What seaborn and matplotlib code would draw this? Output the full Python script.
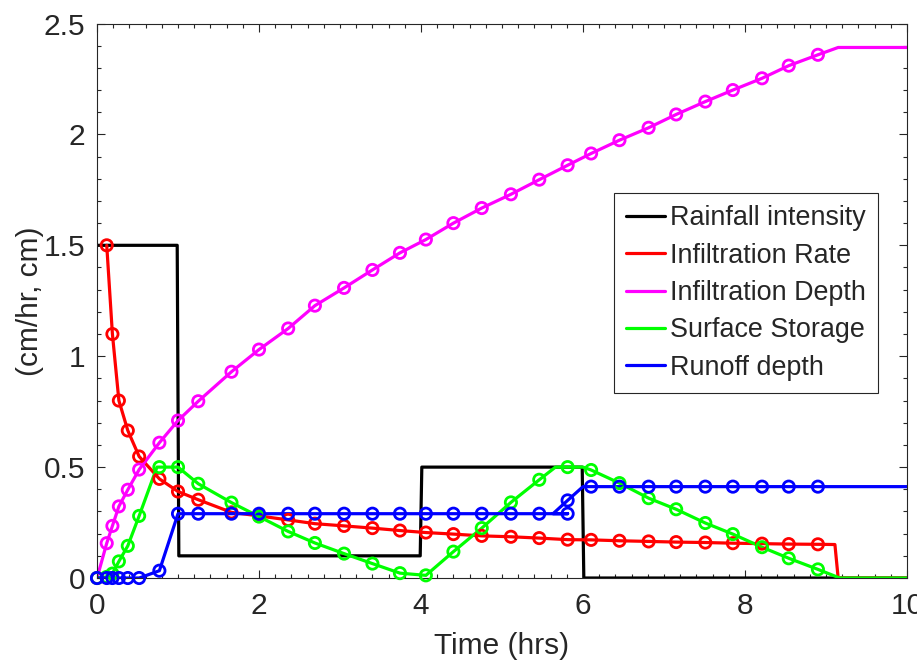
import matplotlib

matplotlib.use("Agg")
import matplotlib.pyplot as plt
import pandas as pd
import seaborn as sns
from matplotlib.ticker import FormatStrFormatter, MultipleLocator

# solver output times where the markers sit (hrs)
t_marks = [0, 0.12, 0.19, 0.27, 0.38, 0.52, 0.77, 1.0, 1.25, 1.66, 2.0, 2.36, 2.69,
           3.05, 3.40, 3.74, 4.06, 4.40, 4.75, 5.11, 5.46, 5.81, 6.10, 6.45, 6.81,
           7.15, 7.51, 7.85, 8.21, 8.54, 8.90]

# rainfall intensity (cm/hr), step hyetograph
rain_t = [0, 0.99, 1.01, 3.99, 4.01, 5.99, 6.01, 10]
rain_v = [1.5, 1.5, 0.1, 0.1, 0.5, 0.5, 0.0, 0.0]

# infiltration rate (cm/hr), starts at the 2nd output time
inf_rate_t = t_marks[1:] + [9.11, 9.15, 10]
inf_rate_v = [1.5, 1.1, 0.80, 0.665, 0.548, 0.447, 0.39, 0.353, 0.296, 0.28, 0.262,
              0.245, 0.235, 0.225, 0.214, 0.205, 0.198, 0.19, 0.186, 0.18, 0.173,
              0.172, 0.168, 0.165, 0.162, 0.16, 0.157, 0.155, 0.153, 0.152,
              0.151, 0.0, 0.0]

# cumulative infiltration depth (cm)
inf_depth_t = t_marks + [9.15, 10]
inf_depth_v = [0, 0.157, 0.235, 0.323, 0.398, 0.489, 0.61, 0.71, 0.797, 0.93, 1.03,
               1.125, 1.228, 1.308, 1.389, 1.466, 1.526, 1.600, 1.668, 1.730, 1.796,
               1.861, 1.914, 1.974, 2.03, 2.09, 2.148, 2.2, 2.253, 2.31, 2.359,
               2.392, 2.392]

# surface storage (cm)
storage_t = [0, 0.12, 0.19, 0.27, 0.38, 0.52, 0.74, 0.77, 1.0, 1.25, 1.66, 2.0, 2.36,
             2.69, 3.05, 3.40, 3.74, 4.06, 4.40, 4.75, 5.11, 5.46, 5.66, 5.81, 6.0,
             6.10, 6.45, 6.81, 7.15, 7.51, 7.85, 8.21, 8.54, 8.90, 9.17, 10]
storage_v = [0, 0.005, 0.02, 0.075, 0.145, 0.28, 0.5, 0.5, 0.5, 0.425, 0.34, 0.277,
             0.21, 0.158, 0.11, 0.065, 0.022, 0.012, 0.119, 0.225, 0.341, 0.443, 0.5,
             0.5, 0.5, 0.487, 0.428, 0.36, 0.31, 0.248, 0.198, 0.139, 0.089, 0.039,
             0.0, 0.0]
storage_marks = [0, 1, 2, 3, 4, 5, 7, 8, 9, 10, 11, 12, 13, 14, 15, 16, 17, 18, 19,
                 20, 21, 23, 25, 26, 27, 28, 29, 30, 31, 32, 33]

# runoff depth (cm)
runoff_t = t_marks[:22] + [5.63, 5.81, 6.0] + t_marks[22:] + [10]
runoff_v = ([0, 0, 0, 0, 0, 0, 0.033]
            + [0.29] * 15          # 1.0 .. 5.46
            + [0.29, 0.35, 0.412]  # 5.63, 5.81, 6.0
            + [0.412] * 9          # 6.10 .. 8.90
            + [0.412])             # 10
runoff_marks = list(range(22)) + [23] + list(range(25, 34))

sns.set_style("ticks")
plt.rcParams["font.family"] = ["Liberation Sans", "DejaVu Sans"]

fig = plt.figure(figsize=(9.17, 6.68), dpi=100)
ax = fig.add_axes([0.1058, 0.1347, 0.8833, 0.8301])

lw = 2.3
ms = 66
mew = 2.0


def draw(t, v, color, label, marks=None):
    df = pd.DataFrame({"t": t, "v": v})
    sns.lineplot(data=df, x="t", y="v", color=color, lw=lw, label=label,
                 sort=False, estimator=None, ax=ax)
    if marks is not None:
        sns.scatterplot(data=df.iloc[marks], x="t", y="v", marker="o", s=ms,
                        facecolors="none", edgecolor=color, linewidth=mew,
                        clip_on=False, zorder=3, ax=ax)


draw(rain_t, rain_v, "black", "Rainfall intensity")
draw(inf_rate_t, inf_rate_v, "#ff0000", "Infiltration Rate",
     marks=list(range(len(t_marks) - 1)))
draw(inf_depth_t, inf_depth_v, "#ff00ff", "Infiltration Depth",
     marks=list(range(len(t_marks))))
draw(storage_t, storage_v, "#00ff00", "Surface Storage", marks=storage_marks)
draw(runoff_t, runoff_v, "#0000ff", "Runoff depth", marks=runoff_marks)

ax.set_xlim(0, 10)
ax.set_ylim(0, 2.5)
ax.xaxis.set_major_locator(MultipleLocator(2))
ax.xaxis.set_minor_locator(MultipleLocator(0.2))
ax.yaxis.set_major_locator(MultipleLocator(0.5))
ax.yaxis.set_minor_locator(MultipleLocator(0.1))
ax.xaxis.set_major_formatter(FormatStrFormatter("%g"))
ax.yaxis.set_major_formatter(FormatStrFormatter("%g"))

dark = "#262626"
for sp in ax.spines.values():
    sp.set_visible(True)
    sp.set_color(dark)
    sp.set_linewidth(0.8)
ax.tick_params(which="both", direction="in", top=True, right=True, color=dark,
               width=0.8, labelcolor=dark, labelsize=21.5)
ax.tick_params(which="major", length=6)
ax.tick_params(which="minor", length=3)
ax.tick_params(axis="x", which="major", pad=10)
ax.tick_params(axis="y", which="major", pad=8.5)

ax.set_xlabel("Time (hrs)", fontsize=21.5, color=dark)
ax.set_ylabel("(cm/hr, cm)", fontsize=21.5, color=dark)
ax.xaxis.set_label_coords(0.5, -0.097)
ax.yaxis.set_label_coords(-0.065, 0.5)

leg = ax.legend(loc="upper left", bbox_to_anchor=(0.638, 0.694), borderaxespad=0,
                fontsize=19.4, frameon=True, fancybox=False, framealpha=1,
                borderpad=0.45, labelspacing=0.42, handlelength=1.45,
                handletextpad=0.2)
leg.get_frame().set_edgecolor(dark)
leg.get_frame().set_linewidth(0.8)
for h in leg.get_lines():
    h.set_linewidth(lw)

fig.savefig("out.png", dpi=100)
